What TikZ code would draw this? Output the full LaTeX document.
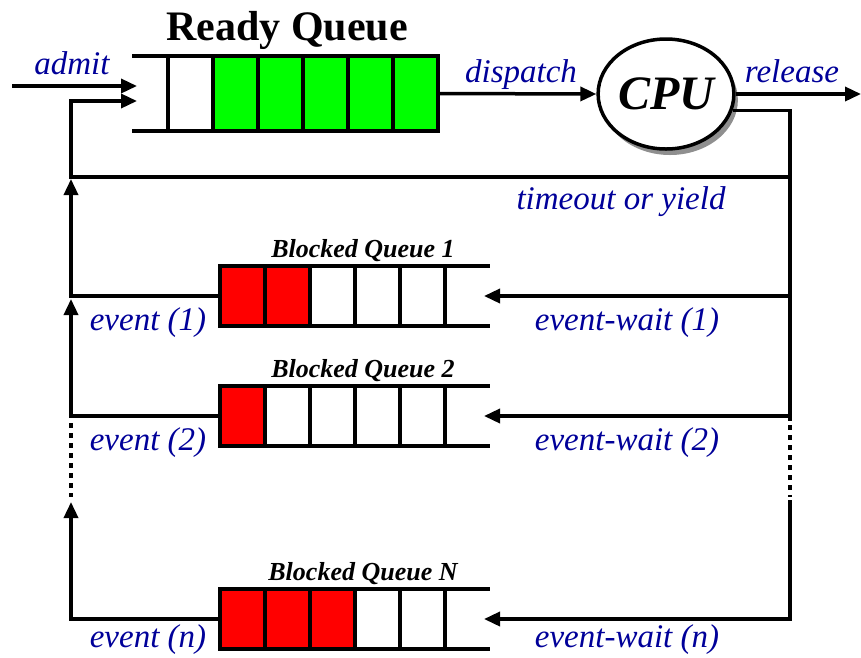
\documentclass[tikz,border=0pt]{standalone}
\usepackage{fontspec}
\setmainfont{Liberation Serif}
\usetikzlibrary{arrows.meta,shapes.geometric,shadows}
\definecolor{lblue}{RGB}{0,0,153}
\definecolor{qgreen}{RGB}{0,255,0}
\definecolor{qred}{RGB}{255,0,0}

\begin{document}
\begin{tikzpicture}[x=1pt,y=-1pt,
  line width=3.5pt,
  wire/.style={line width=3.5pt},
  flow/.style={wire,-{Triangle[length=16pt 0 0,width=14pt 0 0]}},
  dotwire/.style={wire,dash pattern=on 5pt off 5pt},
  cell/.style={draw,line width=3.5pt,minimum width=45pt,minimum height=#1,inner sep=0pt,outer sep=0pt},
  rcell/.style={cell=75pt},
  bcell/.style={cell=60pt},
  lab/.style={text=lblue,font=\fontsize{33}{36}\selectfont\itshape,anchor=base,inner sep=0pt},
  qtitle/.style={font=\fontsize{26}{30}\selectfont\bfseries\itshape,anchor=base,inner sep=0pt},
]
\useasboundingbox (0,0) rectangle (861,657);

% ready queue
\node[font=\fontsize{42}{46}\selectfont\bfseries,anchor=base,inner sep=0pt] (rqtitle) at (287,40) {Ready Queue};
\foreach \i/\c in {0/white,1/qgreen,2/qgreen,3/qgreen,4/qgreen,5/qgreen}
  \node[rcell,fill=\c] (r\i) at ({190.5+45*\i},93.5) {};
\draw (r0.north west) -- ++(-36,0);
\draw (r0.south west) -- ++(-36,0);

% processor
\node[ellipse,draw,line width=3.5pt,fill=white,minimum width=126pt,minimum height=110pt,
      inner sep=0pt,drop shadow={shadow xshift=4pt,shadow yshift=-6pt,fill=black!55,opacity=.8},
      font=\fontsize{48}{50}\selectfont\bfseries\itshape] (cpu) at (666,94) {CPU};

% blocked queues
\foreach \q/\yy/\nr/\t in {a/296/2/1,b/416/1/2,c/619/3/N} {
  \foreach \i in {0,...,4} {
    \ifnum\i<\nr \def\fc{qred}\else\def\fc{white}\fi
    \node[bcell,fill=\fc] (b\q\i) at ({242.5+45*\i},\yy) {};
  }
  \draw (b\q4.north east) -- ++(45,0);
  \draw (b\q4.south east) -- ++(45,0);
  \node[qtitle] (bt\q) at (363,{\yy-39}) {Blocked Queue \t};
}

% connector end points
\coordinate (admitin) at (12,86);
\coordinate (rqin1) at (137,86);
\coordinate (rqin2) at (137,101);
\coordinate (relout) at (861,94);
\coordinate (lbtop) at (71,101);
\coordinate (lbyield) at (71,177);
\coordinate (rbyield) at (790,177);
\coordinate (rbsolid) at (790,421);
\coordinate (rbdot) at (790,425);
\coordinate (rbdotend) at (790,497);
\coordinate (rbN) at (790,500);
\coordinate (rba) at (790,296);
\coordinate (rbb) at (790,416);
\coordinate (bain) at (484,296);
\coordinate (bbin) at (484,416);
\coordinate (bcin) at (484,619);
\coordinate (lba) at (71,179);
\coordinate (lbb) at (71,299);
\coordinate (lbc) at (71,502);
\coordinate (lbdot) at (71,423);
\coordinate (lbdotend) at (71,497);

% ready queue and processor flows
\draw[flow] (admitin) -- (rqin1);
\draw[flow] (r5.east) -- (cpu.west);
\draw[flow] (cpu.east) -- (relout);
\draw[wire] (cpu.-14) -| (rbsolid);
\draw[dotwire] (rbdot) -- (rbdotend);
\draw[flow] (rbyield) -- (lbyield) -- (lbtop) -- (rqin2);

% event-wait flows into blocked queues
\draw[flow] (rba) -- (bain);
\draw[flow] (rbb) -- (bbin);
\draw[flow] (rbN) |- (bcin);

% event flows back to the ready queue
\draw[flow] (ba0.west) -| (lba);
\draw[flow] (bb0.west) -| (lbb);
\draw[flow] (bc0.west) -| (lbc);
\draw[dotwire] (lbdot) -- (lbdotend);

% labels
\node[lab] (ladmit) at (72,74) {admit};
\node[lab] (ldispatch) at (521,82) {dispatch};
\node[lab] (lrelease) at (792,82) {release};
\node[lab] (lyield) at (621,209) {timeout or yield};
\node[lab] (lev1) at (148,330) {event (1)};
\node[lab] (lew1) at (627,330) {event-wait (1)};
\node[lab] (lev2) at (148,450) {event (2)};
\node[lab] (lew2) at (627,450) {event-wait (2)};
\node[lab] (levn) at (148,647) {event (n)};
\node[lab] (lewn) at (627,647) {event-wait (n)};
\end{tikzpicture}
\end{document}
